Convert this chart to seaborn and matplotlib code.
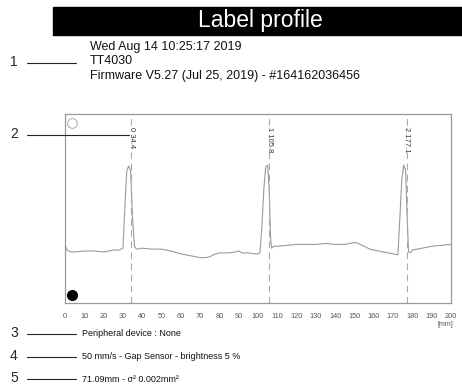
import matplotlib
matplotlib.use("Agg")
import matplotlib.pyplot as plt
from matplotlib.patches import Rectangle
from matplotlib.lines import Line2D
import seaborn as sns
import pandas as pd

# ---- data ----
pos_mm = [0, 1, 3, 5, 10, 15, 20, 25, 28, 30, 31, 32, 33, 34, 35, 36, 37, 40, 45, 50,
          55, 60, 65, 70, 73, 75, 78, 80, 82, 85, 88, 90, 92, 95, 98, 100, 101, 102, 103,
          104, 105, 105.8, 106.5, 107, 108, 110, 115, 120, 125, 130, 135, 140, 145, 150,
          152, 155, 158, 160, 165, 170, 172.5, 173.5, 174.5, 175.5, 176.5, 177.3, 178,
          179, 180, 185, 190, 195, 200]
signal = [31, 28, 27, 27, 27.5, 27.5, 27, 28, 28, 29, 50, 70, 72.5, 70, 45, 30, 28.5, 29,
          28.5, 28.5, 27.5, 26, 25, 24, 24, 24.5, 26, 26.5, 26.5, 26.5, 27, 27.5, 26.5,
          26.5, 26, 26, 26.5, 40, 60, 72, 73, 60, 35, 29, 30, 30, 30.5, 31, 31, 31, 31.5,
          31, 31, 32, 31.5, 30, 28.5, 28, 27, 26, 25.5, 45, 65, 73, 70, 45, 27, 26.5, 28,
          29, 30, 30.5, 31]
gap_pos = [34.4, 105.8, 177.1]
gap_labels = ["0 34.4", "1 105.8", "2 177.1"]
x_ticks = list(range(0, 201, 10))
title = "Label profile"
header_lines = ["Wed Aug 14 10:25:17 2019", "TT4030",
                "Firmware V5.27 (Jul 25, 2019) - #164162036456"]
footer_lines = ["Peripheral device : None",
                "50 mm/s - Gap Sensor - brightness 5 %",
                "71.09mm - σ² 0.002mm²"]

sns.set_style("white")
plt.rcParams['font.family'] = ['Liberation Sans', 'DejaVu Sans']

W, H = 462, 387
fig = plt.figure(figsize=(W / 100, H / 100), dpi=100)

def fx(px):
    return px / W

def fy(py):
    return 1 - py / H

# header bar
fig.patches.append(Rectangle((fx(53), fy(35)), fx(462) - fx(53), fy(7) - fy(35),
                             transform=fig.transFigure, color='black', zorder=0))
fig.text(fx(260), fy(21), title, color='white', fontsize=16.5, ha='center', va='center')

# header lines
for i, t in enumerate(header_lines):
    fig.text(fx(90), fy(47 + i * 14.5), t, fontsize=9, ha='left', va='center', color='#111')
fig.text(fx(14), fy(62), "1", fontsize=10, ha='center', va='center')
fig.lines.append(Line2D([fx(27), fx(76)], [fy(63), fy(63)], transform=fig.transFigure,
                        color='#222', lw=0.8))

# plot
ax = fig.add_axes([fx(65), fy(303), fx(451) - fx(65), fy(114) - fy(303)])
df = pd.DataFrame({"pos": pos_mm, "signal": signal})
sns.lineplot(data=df, x="pos", y="signal", ax=ax, color='#9a9a9a', lw=0.8)
ax.set_xlim(0, 200)
ax.set_ylim(0, 100)
ax.set_xticks(x_ticks)
ax.set_xticklabels([str(t) for t in x_ticks], fontsize=5.3, color='#555')
ax.set_yticks([])
ax.set_xlabel("")
ax.set_ylabel("")
ax.tick_params(axis='x', direction='out', length=3, width=0.6, color='#777', pad=4)
for s in ax.spines.values():
    s.set_color('#999')
    s.set_linewidth(0.9)

for p, lab in zip(gap_pos, gap_labels):
    ax.axvline(p, color='#aaa', lw=0.8, ls=(0, (6, 4)))
    ax.text(p, 93, lab, rotation=270, fontsize=5.5, ha='center', va='top',
            color='#333', bbox=dict(facecolor='white', edgecolor='none', pad=0.5))

ax.plot([0.018], [0.955], marker='o', ms=7, mfc='none', mec='#aaa', mew=0.7,
        transform=ax.transAxes, clip_on=False)
ax.plot([0.018], [0.04], marker='o', ms=7, color='black',
        transform=ax.transAxes, clip_on=False)
fig.text(fx(445), fy(325), "[mm]", fontsize=5, color='#555', ha='center', va='center')

# label 2
fig.text(fx(14), fy(134), "2", fontsize=10, ha='center', va='center')
fig.lines.append(Line2D([fx(27), fx(129)], [fy(135), fy(135)], transform=fig.transFigure,
                        color='#222', lw=0.8))

# footer
narrow = ['Liberation Sans Narrow', 'Liberation Sans', 'DejaVu Sans']
for i, t in enumerate(footer_lines):
    y = 333 + i * 22.5
    fig.text(fx(14), fy(y), str(i + 3), fontsize=10, ha='center', va='center')
    fig.lines.append(Line2D([fx(27), fx(76)], [fy(y + 1), fy(y + 1)],
                            transform=fig.transFigure, color='#222', lw=0.8))
    fig.text(fx(82), fy(y + 1), t, fontsize=6.5, ha='left', va='center',
             family=narrow, color='#111')

fig.savefig("out.png", dpi=100)
